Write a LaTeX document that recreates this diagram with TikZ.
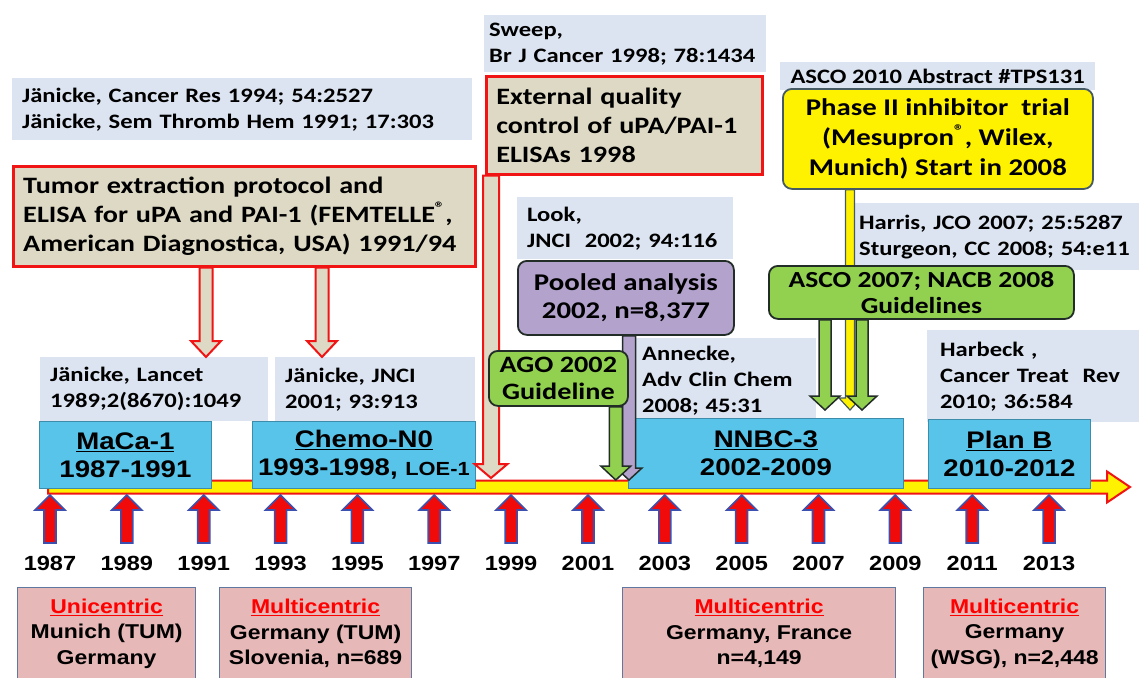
\documentclass[tikz,border=0pt]{standalone}
\usepackage{fontspec}
\usetikzlibrary{calc}
\newfontfamily\calib[FakeStretch=1.2]{Carlito}
\newfontfamily\arialb[FakeStretch=1.15]{Liberation Sans}

\definecolor{refblue}{RGB}{220,228,241}
\definecolor{qcbeige}{RGB}{221,217,196}
\definecolor{qcred}{RGB}{240,20,20}
\definecolor{tlcyan}{RGB}{88,196,234}
\definecolor{tlteal}{RGB}{60,140,170}
\definecolor{guidegreen}{RGB}{146,208,80}
\definecolor{darkline}{RGB}{35,45,40}
\definecolor{poolpurple}{RGB}{178,162,204}
\definecolor{trialedge}{RGB}{70,90,100}
\definecolor{sitepink}{RGB}{230,185,184}
\definecolor{siteedge}{RGB}{95,120,160}
\definecolor{yrblue}{RGB}{60,80,175}
\definecolor{yrred}{RGB}{240,10,10}

\newcommand\reffont{\calib\bfseries\fontsize{20.5}{26}\selectfont}
\newcommand\qcfont{\calib\bfseries\fontsize{23.5}{29}\selectfont}
\newcommand\tlfont{\arialb\bfseries\fontsize{24}{28}\selectfont}
\newcommand\yrfont{\arialb\bfseries\fontsize{20.5}{22}\selectfont}
\newcommand\sitefont{\arialb\bfseries\fontsize{20}{25.5}\selectfont}

% block arrows: [style]{start}{tip}{half shaft}{half head}{head length}
\newcommand\blockdown[6][]{%
  \draw[#1] let \p1=(#2), \p2=(#3) in
    (\x2-#4,\y1) -- (\x2-#4,\y2+#6) -- (\x2-#5,\y2+#6) -- (\x2,\y2)
    -- (\x2+#5,\y2+#6) -- (\x2+#4,\y2+#6) -- (\x2+#4,\y1) -- cycle;}
\newcommand\blockup[6][]{%
  \draw[#1] let \p1=(#2), \p2=(#3) in
    (\x2-#4,\y1) -- (\x2-#4,\y2-#6) -- (\x2-#5,\y2-#6) -- (\x2,\y2)
    -- (\x2+#5,\y2-#6) -- (\x2+#4,\y2-#6) -- (\x2+#4,\y1) -- cycle;}
\newcommand\blockright[6][]{%
  \draw[#1] let \p1=(#2), \p2=(#3) in
    (\x1,\y2+#4) -- (\x2-#6,\y2+#4) -- (\x2-#6,\y2+#5) -- (\x2,\y2)
    -- (\x2-#6,\y2-#5) -- (\x2-#6,\y2-#4) -- (\x1,\y2-#4) -- cycle;}

\begin{document}
\begin{tikzpicture}[x=1pt,y=-1pt,
    refbox/.style={fill=refblue, font=\reffont, align=left, anchor=north west, inner xsep=10pt, inner ysep=0pt},
    qcbox/.style={fill=qcbeige, draw=qcred, line width=2.5pt, font=\qcfont, align=left, anchor=north west, inner xsep=10pt, inner ysep=0pt},
    roundbox/.style={draw=darkline, line width=1.8pt, rounded corners=9pt, align=center, anchor=north west, inner sep=0pt},
    tlbox/.style={fill=tlcyan, draw=tlteal, line width=0.8pt, font=\tlfont, align=center, anchor=north west, inner sep=0pt},
    sitebox/.style={fill=sitepink, draw=siteedge, line width=1.2pt, font=\sitefont, align=center, anchor=north west, inner sep=0pt},
    yrlbl/.style={font=\yrfont, inner sep=0pt, anchor=north},
    yrarrow/.style={fill=yrred, draw=yrblue, line width=1.6pt},
    tlarrow/.style={fill=yellow, draw=qcred, line width=2pt},
    qcarrow/.style={fill=qcbeige, draw=qcred, line width=2pt},
    poolarrow/.style={fill=poolpurple, draw=darkline, line width=1.5pt},
    greenarrow/.style={fill=guidegreen, draw=darkline, line width=1.5pt},
    yelarrow/.style={fill=yellow, draw=trialedge, line width=1.2pt}]
    \useasboundingbox (0,0) rectangle (1139,677);

    \node[refbox, text width=440pt, minimum height=62pt] (refCR) at (12,78)
        {Jänicke, Cancer Res 1994; 54:2527\\Jänicke, Sem Thromb Hem 1991; 17:303};
    \node[refbox, inner xsep=5pt, text width=272pt, minimum height=57pt] (refSweep) at (484,15)
        {Sweep,\\Br J Cancer 1998; 78:1434};
    \node[refbox, text width=196pt, minimum height=62pt] (refLook) at (517,197)
        {Look,\\JNCI\ \ 2002; 94:116};
    \node[refbox, align=center, minimum width=315pt, minimum height=28pt] (refASCO) at (780,62)
        {ASCO 2010 Abstract \#TPS131};
    \node[refbox, inner xsep=6pt, text width=290pt, minimum height=67pt] (refHarris) at (853,203)
        {Harris, JCO 2007; 25:5287\\Sturgeon, CC 2008; 54:e11};
    \node[refbox, text width=208pt, minimum height=64pt] (refLancet) at (40,357)
        {Jänicke, Lancet\\1989;2(8670):1049};
    \node[refbox, text width=180pt, minimum height=64pt] (refJNCI) at (275,357)
        {Jänicke, JNCI\\2001; 93:913};
    \node[refbox, inner xsep=14pt, text width=160pt, minimum height=84pt] (refAnnecke) at (628,338)
        {Annecke,\\Adv Clin Chem\\2008; 45:31};
    \node[refbox, inner xsep=13pt, text width=186pt, minimum height=92pt] (refHarbeck) at (927,330)
        {Harbeck ,\\Cancer Treat\ \ Rev\\2010; 36:584};

    \coordinate (tlS) at (48,487);
    \coordinate (tlE) at (1130,487);
    \coordinate (tlbot) at (0,495);
    \blockright[tlarrow]{tlS}{tlE}{6.5pt}{15.5pt}{23pt}

    \foreach \yr [count=\i from 0] in {1987,1989,...,2013} {
        \node[yrlbl] (yr\yr) at ({50+76.85*\i},556) {\yr};
        \blockup[yrarrow]{$(yr\yr.north)+(0,-13)$}{yr\yr.north |- tlbot}{6pt}{15pt}{15pt}
    }

    \node[tlbox, minimum width=172pt, minimum height=67pt] (maca) at (39,421)
        {\underline{MaCa-1}\\1987-1991};
    \node[tlbox, minimum width=223pt, minimum height=67pt] (chemo) at (252,421)
        {\underline{Chemo-N0}\\1993-1998, {\fontsize{19}{20}\selectfont LOE-1}};
    \node[tlbox, minimum width=275pt, minimum height=70pt] (nnbc) at (628,418)
        {\underline{NNBC-3}\\2002-2009};
    \node[tlbox, minimum width=162pt, minimum height=69pt] (planb) at (928,419)
        {\underline{Plan B}\\2010-2012};

    \node[sitebox, minimum width=178pt, minimum height=92pt] (site1) at (17,587)
        {\textcolor{red}{\underline{Unicentric}}\\Munich (TUM)\\Germany};
    \node[sitebox, minimum width=192pt, minimum height=92pt] (site2) at (219,587)
        {\textcolor{red}{\underline{Multicentric}}\\Germany (TUM)\\Slovenia, n=689};
    \node[sitebox, minimum width=273pt, minimum height=92pt] (site3) at (622,587)
        {\textcolor{red}{\underline{Multicentric}}\\Germany, France\\n=4,149};
    \node[sitebox, minimum width=182pt, minimum height=92pt] (site4) at (923,587)
        {\textcolor{red}{\underline{Multicentric}}\\Germany\\(WSG), n=2,448};

    \node[qcbox, text width=442pt, minimum height=100pt] (tumor) at (12,165)
        {Tumor extraction protocol and\\ELISA for uPA and PAI-1 (FEMTELLE\textsuperscript{®},\\American Diagnostica, USA) 1991/94};
    \blockdown[qcarrow]{tumor.south}{$(refLancet.north west)+(166,0)$}{6.5pt}{15pt}{16pt}
    \blockdown[qcarrow]{tumor.south}{$(refJNCI.north west)+(47,0)$}{6.5pt}{15pt}{16pt}

    \node[qcbox, text width=256pt, minimum height=98pt] (extqc) at (485,75)
        {External quality\\control of uPA/PAI-1\\ELISAs 1998};
    \blockdown[qcarrow]{extqc.south}{$(extqc.south west |- tlS)+(6,-9)$}{8pt}{16.5pt}{14pt}

    \node[roundbox, fill=poolpurple, minimum width=216pt, minimum height=74pt,
        font=\calib\bfseries\fontsize{24}{28}\selectfont] (pooled) at (517,260)
        {Pooled analysis\\2002, n=8,377};
    \blockdown[poolarrow]{pooled.south}{$(pooled.south west |- tlS)+(112,-7)$}{6.5pt}{13pt}{12pt}

    \node[roundbox, fill=guidegreen, minimum width=139pt, minimum height=55pt,
        font=\calib\bfseries\fontsize{23.5}{27}\selectfont] (ago) at (488,350)
        {AGO 2002\\Guideline};
    \blockdown[greenarrow]{ago.south}{$(ago.south east |- tlS)+(-13,-7)$}{6.5pt}{15pt}{14pt}

    \node[roundbox, fill=yellow, draw=trialedge, minimum width=310pt, minimum height=100pt,
        font=\calib\bfseries\fontsize{24}{30}\selectfont] (trial) at (782,88)
        {Phase II inhibitor\ \ trial\\(Mesupron\textsuperscript{®}, Wilex,\\Munich) Start in 2008};
    \blockdown[yelarrow]{trial.south}{$(trial.south west |- nnbc.north)+(68,-8)$}{4.5pt}{11pt}{12pt}

    \node[roundbox, fill=guidegreen, minimum width=305pt, minimum height=53pt,
        font=\calib\bfseries\fontsize{23}{26}\selectfont] (asco07) at (768,265)
        {ASCO 2007; NACB 2008\\Guidelines};
    \blockdown[greenarrow]{asco07.south}{$(asco07.south west |- nnbc.north)+(57,-8)$}{6pt}{15pt}{14pt}
    \blockdown[greenarrow]{asco07.south}{$(asco07.south west |- nnbc.north)+(94,-8)$}{6pt}{15pt}{14pt}
\end{tikzpicture}
\end{document}
